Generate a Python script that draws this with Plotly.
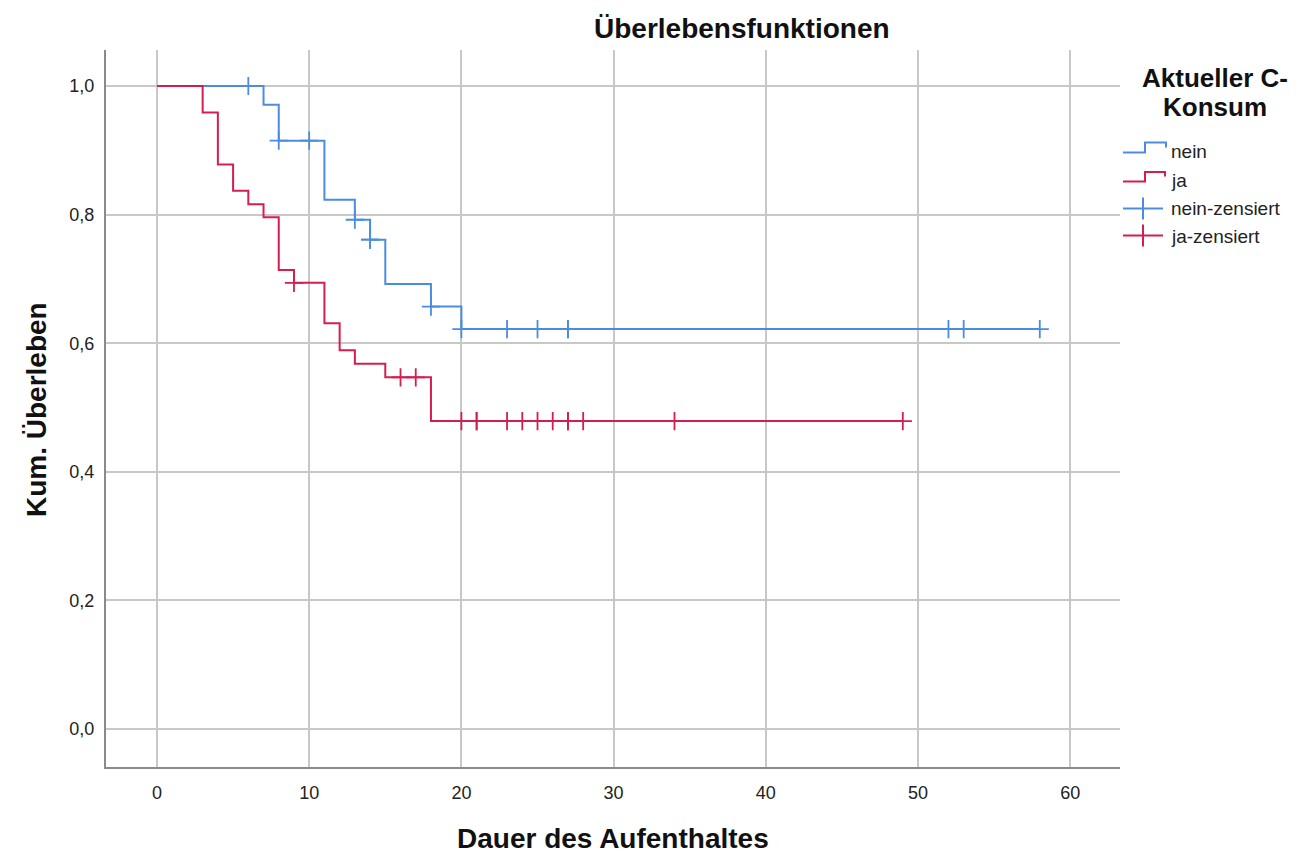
import plotly.graph_objects as go

# ---- data ----
nein_t = [0, 7, 8, 11, 13, 14, 15, 18, 20, 58]
nein_s = [1.0, 0.971, 0.915, 0.823, 0.792, 0.761, 0.692, 0.657, 0.622, 0.622]
nein_cens_t = [6, 8, 10, 13, 14, 14, 18, 20, 23, 25, 27, 27, 52, 53, 58]

ja_t = [0, 3, 4, 5, 6, 7, 8, 9, 11, 12, 13, 15, 18, 49]
ja_s = [1.0, 0.959, 0.878, 0.837, 0.816, 0.796, 0.714, 0.694, 0.631, 0.589, 0.568, 0.547, 0.479, 0.479]
ja_cens_t = [9, 16, 17, 20, 21, 21, 23, 24, 25, 26, 27, 27, 28, 34, 49]

x_ticks = [0, 10, 20, 30, 40, 50, 60]
y_ticks = [0.0, 0.2, 0.4, 0.6, 0.8, 1.0]

BLUE = "#4a8de0"
RED = "#d41f4e"
FONT = "Liberation Sans, Arial, sans-serif"


def surv_at(ts, ss, t):
    val = ss[0]
    for ti, si in zip(ts, ss):
        if ti <= t:
            val = si
    return val


nein_cens_s = [surv_at(nein_t, nein_s, t) for t in nein_cens_t]
ja_cens_s = [surv_at(ja_t, ja_s, t) for t in ja_cens_t]

fig = go.Figure()
fig.add_trace(go.Scatter(x=nein_t, y=nein_s, mode="lines", line=dict(color=BLUE, width=2, shape="hv"),
                         name="nein", showlegend=False))
fig.add_trace(go.Scatter(x=ja_t, y=ja_s, mode="lines", line=dict(color=RED, width=2, shape="hv"),
                         name="ja", showlegend=False))
fig.add_trace(go.Scatter(x=nein_cens_t, y=nein_cens_s, mode="markers",
                         marker=dict(symbol="cross-thin", size=13, line=dict(color=BLUE, width=1.8)),
                         name="nein-zensiert", showlegend=False))
fig.add_trace(go.Scatter(x=ja_cens_t, y=ja_cens_s, mode="markers",
                         marker=dict(symbol="cross-thin", size=13, line=dict(color=RED, width=1.8)),
                         name="ja-zensiert", showlegend=False))

# page body has an 8px margin, so the figure is drawn 8px in from the window corner
OFF = 8
SCREEN_W, SCREEN_H = 1310, 853
W, H = SCREEN_W - OFF, SCREEN_H - OFF
# plot area in screen pixels
L, R, T, B = 106, 1120, 50, 767


def px(x):
    return (x - L) / (R - L)


def py(y):
    return (B - y) / (B - T)


shapes = []
annotations = []


def path(points):
    return "M " + " L ".join(f"{px(x):.5f},{py(y):.5f}" for x, y in points)


# legend glyphs (paper coordinates)
shapes.append(dict(type="path", xref="paper", yref="paper",
                   path=path([(1123, 152.5), (1145, 152.5), (1145, 142.5), (1166, 142.5), (1166, 147.5)]),
                   line=dict(color=BLUE, width=2)))
shapes.append(dict(type="path", xref="paper", yref="paper",
                   path=path([(1123, 181.5), (1145, 181.5), (1145, 172), (1165, 172), (1165, 176.5)]),
                   line=dict(color=RED, width=2)))
for yc, col in [(208.5, BLUE), (235.5, RED)]:
    shapes.append(dict(type="line", xref="paper", yref="paper",
                       x0=px(1123), x1=px(1163), y0=py(yc), y1=py(yc), line=dict(color=col, width=2)))
    shapes.append(dict(type="line", xref="paper", yref="paper",
                       x0=px(1143), x1=px(1143), y0=py(yc - 11), y1=py(yc + 11), line=dict(color=col, width=2)))

for label, yc in [("nein", 151), ("ja", 180), ("nein-zensiert", 209), ("ja-zensiert", 237)]:
    annotations.append(dict(text=label, xref="paper", yref="paper", x=px(1169), y=py(yc),
                            xanchor="left", yanchor="middle", showarrow=False,
                            font=dict(family=FONT, size=19, color="#222222")))

for label, yc in [("Aktueller C-", 78), ("Konsum", 107)]:
    annotations.append(dict(text="<b>" + label + "</b>", xref="paper", yref="paper", x=px(1215), y=py(yc),
                            xanchor="center", yanchor="middle", showarrow=False,
                            font=dict(family=FONT, size=26, color="#111111")))

# chart title and axis titles
annotations.append(dict(text="<b>Überlebensfunktionen</b>", xref="paper", yref="paper", x=px(742), y=py(28),
                        xanchor="center", yanchor="middle", showarrow=False,
                        font=dict(family=FONT, size=28, color="#111111")))
annotations.append(dict(text="<b>Dauer des Aufenthaltes</b>", xref="paper", yref="paper", x=px(613), y=py(838),
                        xanchor="center", yanchor="middle", showarrow=False,
                        font=dict(family=FONT, size=28, color="#111111")))
annotations.append(dict(text="<b>Kum. Überleben</b>", xref="paper", yref="paper", x=px(36), y=py(410),
                        xanchor="center", yanchor="middle", showarrow=False, textangle=-90,
                        font=dict(family=FONT, size=28, color="#111111")))

fig.update_layout(
    width=W, height=H, autosize=False,
    margin=dict(l=L - OFF, r=W - (R - OFF), t=T - OFF, b=H - (B - OFF), pad=0),
    paper_bgcolor="white", plot_bgcolor="white",
    separators=",.",
    shapes=shapes, annotations=annotations,
    font=dict(family=FONT, color="#222222"),
)
fig.update_xaxes(range=[-3.35, 63.27], tickvals=x_ticks, showgrid=True, gridcolor="#c8c8c8", gridwidth=2,
                 zeroline=False, showline=True, linecolor="#8a8a8a", linewidth=2, ticks="",
                 ticklabelstandoff=8, tickfont=dict(family=FONT, size=18, color="#222222"))
fig.update_yaxes(range=[-0.059, 1.056], tickvals=y_ticks, tickformat=".1f", showgrid=True, gridcolor="#c8c8c8",
                 gridwidth=2, zeroline=False, showline=True, linecolor="#8a8a8a", linewidth=2, ticks="",
                 ticklabelstandoff=6, tickfont=dict(family=FONT, size=18, color="#222222"))

fig.write_html("out.html")
